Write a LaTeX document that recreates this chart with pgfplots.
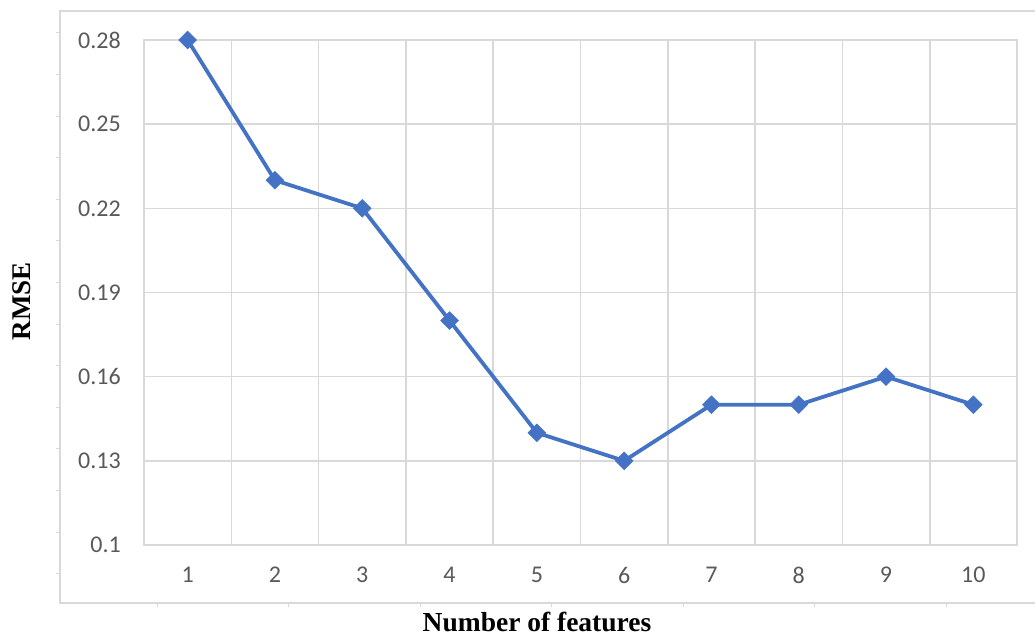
\documentclass[border=0pt]{standalone}
\usepackage{fontspec}
\setmainfont{Liberation Serif}
\newfontfamily\calibri{Carlito}
\usepackage{pgfplots}
\pgfplotsset{compat=1.18}
\definecolor{gridgray}{HTML}{D9D9D9}
\definecolor{ticktext}{HTML}{595959}
\definecolor{excelblue}{HTML}{4472C4}
\begin{document}
\begin{tikzpicture}[x=1pt,y=1pt]
\useasboundingbox (0,0) rectangle (1035,637);
% outer chart frame with its small ticks
\draw[gridgray, line width=1.5pt] (1035,626) -- (60,626) -- (60,34) -- (1035,34);
\foreach \i in {0,...,13}
  \draw[gridgray, line width=1pt] (56,604-41.6*\i) -- (60,604-41.6*\i);
\foreach \i in {0,...,6}
  \draw[gridgray, line width=1pt] (157+131.5*\i,34) -- (157+131.5*\i,30);
\begin{axis}[
  at={(144pt,92pt)}, anchor=south west,
  scale only axis, width=873pt, height=505pt,
  xmin=0.5, xmax=10.5, ymin=0.1, ymax=0.28,
  xtick={1,...,10},
  minor xtick={0.5,1.5,...,10.5},
  ytick={0.1,0.13,0.16,0.19,0.22,0.25,0.28},
  yticklabels={0.1,0.13,0.16,0.19,0.22,0.25,0.28},
  xticklabels={1,2,3,4,5,6,7,8,9,10},
  xminorgrids, ymajorgrids,
  grid style={gridgray, line width=1.6pt},
  minor grid style={gridgray, line width=1.6pt},
  axis line style={gridgray, line width=1.6pt},
  major tick length=0pt, minor tick length=0pt,
  tick label style={font=\calibri\fontsize{24}{28}\selectfont, text=ticktext, inner sep=0pt},
  xticklabel style={anchor=center, yshift=-30pt},
  yticklabel style={anchor=east, xshift=-23pt},
  /pgf/number format/assume math mode=true,
  clip=false,
]
\addplot[excelblue, line width=3.8pt, mark=square*,
  mark options={rotate=45, fill=excelblue, draw=excelblue, line width=0.5pt},
  mark size=6.3pt] coordinates {
  (1,0.28) (2,0.23) (3,0.22) (4,0.18) (5,0.14)
  (6,0.13) (7,0.15) (8,0.15) (9,0.16) (10,0.15)
};
\end{axis}
\node[rotate=90, font=\bfseries\fontsize{27}{32}\selectfont] at (22,336) {RMSE};
\node[inner sep=0pt, font=\bfseries\fontsize{27.5}{32}\selectfont] at (537,15) {Number of features};
\end{tikzpicture}
\end{document}
